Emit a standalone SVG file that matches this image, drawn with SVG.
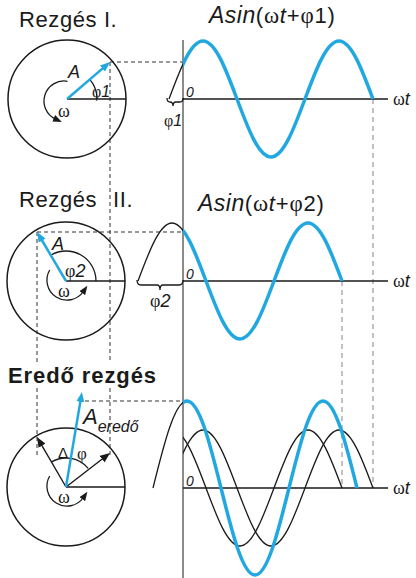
<svg xmlns="http://www.w3.org/2000/svg" width="416" height="578" viewBox="0 0 416 578">
<style>
 .sans{font-family:"Liberation Sans",Arial,sans-serif}
 .ser{font-family:"Liberation Serif","Times New Roman",serif}
 .it{font-style:italic}
 text{fill:#1a1a1a}
 .circ{fill:none;stroke:#1a1a1a;stroke-width:1.5}
 .ax{stroke:#1a1a1a;stroke-width:1.5;fill:none}
 .vax{stroke:#6e6e6e;stroke-width:1.6;fill:none}
 .dash{stroke:#333;stroke-width:1;stroke-dasharray:4 3;fill:none}
 .gdash{stroke:#9a9a9a;stroke-width:1.2;stroke-dasharray:5 4;fill:none}
 .blue{stroke:#22a8e0;stroke-width:3.5;fill:none}
 .bvec{stroke:#22a8e0;stroke-width:2.5;fill:none}
 .kvec{stroke:#1a1a1a;stroke-width:1.4;fill:none}
 .thin{stroke:#1a1a1a;stroke-width:1.3;fill:none}
 .title{font-size:22px;letter-spacing:0.8px}
</style>
<defs>
 <marker id="ab" markerUnits="userSpaceOnUse" markerWidth="11" markerHeight="8" refX="3" refY="4" orient="auto"><path d="M0,0 L10,4 L0,8 z" fill="#22a8e0"/></marker>
 <marker id="ak" markerUnits="userSpaceOnUse" markerWidth="11" markerHeight="8" refX="3" refY="4" orient="auto"><path d="M0,0 L10,4 L0,8 z" fill="#1a1a1a"/></marker>
 <marker id="ar" markerUnits="userSpaceOnUse" markerWidth="9" markerHeight="7" refX="2" refY="3.5" orient="auto"><path d="M0,0 L9,3.5 L0,7 z" fill="#1a1a1a"/></marker>
 <clipPath id="cr"><rect x="183" y="0" width="233" height="578"/></clipPath>
 <clipPath id="cl"><rect x="0" y="0" width="183" height="578"/></clipPath>
</defs>
<rect width="416" height="578" fill="#fff"/>

<g id="connectors">
 <path class="dash" d="M110,62 H183 M110,62 V362 M110,388 V457"/>
 <path class="dash" d="M37,232 H183 M37,232 V362 M37,388 V455"/>
 <path class="dash" d="M85,401 H183"/>
 <path class="gdash" d="M373,99 V488 M342,281 V488"/>
</g>

<line id="time-axis" class="vax" x1="183" y1="40" x2="183" y2="578"/>

<g id="vibration1">
 <text class="sans" x="19" y="27" font-size="22" letter-spacing="0.6">Rezgés I.</text>
 <circle class="circ" cx="67" cy="99" r="59"/>
 <line class="ax" x1="67" y1="99" x2="126" y2="99"/>
 <path class="thin" d="M97,99 A30,30 0 0 0 90,79.7"/>
 <path class="thin" marker-end="url(#ar)" d="M67.5,81.3 A20,20 0 0 0 55.5,119.1"/>
 <line class="bvec" marker-end="url(#ab)" x1="67" y1="99" x2="104.7" y2="66.6"/>
 <text class="sans it" x="68" y="78" font-size="18">A</text>
 <text x="92" y="97" font-size="16"><tspan class="ser">φ</tspan><tspan class="sans it">1</tspan></text>
 <text class="ser" x="58" y="117" font-size="18">ω</text>
 <line class="ax" x1="183" y1="99" x2="388" y2="99"/>
 <text x="393" y="105" font-size="18"><tspan class="ser">ω</tspan><tspan class="sans it">t</tspan></text>
 <text class="sans it" x="186" y="97" font-size="14">0</text>
 <text class="title" x="209" y="23"><tspan class="sans it" font-size="23" letter-spacing="0.5">Asin</tspan><tspan class="sans">(</tspan><tspan class="ser" font-size="23">ω</tspan><tspan class="sans it">t</tspan><tspan class="sans">+</tspan><tspan class="ser" font-size="23">φ</tspan><tspan class="sans">1)</tspan></text>
 <path class="blue" clip-path="url(#cr)" d="M169,99 C180.09,69.29 190.70,41 203,41 C215.30,41 225.91,69.29 237,99 C248.09,128.71 258.70,157 271,157 C283.30,157 293.91,128.71 305,99 C316.09,69.29 326.70,41 339,41 C351.30,41 361.91,69.29 373,99"/>
 <path class="thin" clip-path="url(#cl)" d="M169,99 C180.09,69.29 190.70,41 203,41"/>
 <path class="thin" d="M167,98 Q167,102 170,102 Q173,102 173,106 Q173,102 176,102 L180,102 Q183,102 183,98"/>
 <text x="164" y="126" font-size="16"><tspan class="ser">φ</tspan><tspan class="sans it">1</tspan></text>
</g>

<g id="vibration2">
 <text class="sans" x="19" y="207" font-size="22" letter-spacing="0.6">Rezgés <tspan x="113">II.</tspan></text>
 <circle class="circ" cx="66" cy="281" r="59"/>
 <line class="ax" x1="66" y1="281" x2="125" y2="281"/>
 <path class="thin" d="M96,281 A30,30 0 0 0 51,255"/>
 <path class="thin" marker-end="url(#ar)" d="M49.7,270 A20,20 0 0 0 83.4,291.5"/>
 <line class="bvec" marker-end="url(#ab)" x1="66" y1="281" x2="40.6" y2="238"/>
 <text class="sans it" x="52" y="250" font-size="18">A</text>
 <text x="65" y="277" font-size="18"><tspan class="ser">φ</tspan><tspan class="sans it">2</tspan></text>
 <text class="ser" x="58" y="297" font-size="18">ω</text>
 <line class="ax" x1="183" y1="281" x2="388" y2="281"/>
 <text x="393" y="287" font-size="18"><tspan class="ser">ω</tspan><tspan class="sans it">t</tspan></text>
 <text class="sans it" x="186" y="279" font-size="14">0</text>
 <text class="title" x="198" y="211"><tspan class="sans it" font-size="23" letter-spacing="0.5">Asin</tspan><tspan class="sans">(</tspan><tspan class="ser" font-size="23">ω</tspan><tspan class="sans it">t</tspan><tspan class="sans">+</tspan><tspan class="ser" font-size="23">φ</tspan><tspan class="sans">2)</tspan></text>
 <path class="blue" clip-path="url(#cr)" d="M138,281 C149.09,251.29 159.70,223 172,223 C184.30,223 194.91,251.29 206,281 C217.09,310.71 227.70,339 240,339 C252.30,339 262.91,310.71 274,281 C285.09,251.29 295.70,223 308,223 C320.30,223 330.91,251.29 342,281"/>
 <path class="thin" clip-path="url(#cl)" d="M138,281 C149.09,251.29 159.70,223 172,223 C184.30,223 194.91,251.29 206,281"/>
 <path class="thin" d="M137,280 Q137,285 141,285 L157,285 Q160,285 160,290 Q160,285 163,285 L179,285 Q183,285 183,280"/>
 <text x="150" y="307" font-size="18"><tspan class="ser">φ</tspan><tspan class="sans it">2</tspan></text>
</g>

<g id="resultant">
 <text class="sans" x="8" y="383" font-size="22" font-weight="bold" letter-spacing="0.9">Eredő rezgés</text>
 <circle class="circ" cx="66" cy="487" r="59"/>
 <line class="ax" x1="66" y1="487" x2="125" y2="487"/>
 <path class="thin" d="M88.2,468.4 A29,29 0 0 0 51.5,461.9"/>
 <path class="thin" marker-end="url(#ar)" d="M49.7,476 A20,20 0 0 0 83.4,497.5"/>
 <line class="kvec" marker-end="url(#ak)" x1="66" y1="487" x2="40.5" y2="443.1"/>
 <line class="kvec" marker-end="url(#ak)" x1="66" y1="487" x2="104.5" y2="457.3"/>
 <line class="bvec" marker-end="url(#ab)" x1="66" y1="487" x2="80.8" y2="398.9"/>
 <text class="sans it" x="83" y="424" font-size="22">A<tspan font-size="16" dy="8">eredő</tspan></text>
 <text class="sans" x="58" y="458" font-size="15">Δ</text>
 <text class="ser" x="77" y="459" font-size="17">φ</text>
 <text class="ser" x="58" y="503" font-size="18">ω</text>
 <line class="ax" x1="183" y1="488" x2="388" y2="488"/>
 <text x="393" y="494" font-size="18"><tspan class="ser">ω</tspan><tspan class="sans it">t</tspan></text>
 <text class="sans it" x="186" y="486" font-size="14">0</text>
 <path class="thin" clip-path="url(#cr)" d="M169,488 C180.09,458.29 190.70,430 203,430 C215.30,430 225.91,458.29 237,488 C248.09,517.71 258.70,546 271,546 C283.30,546 293.91,517.71 305,488 C316.09,458.29 326.70,430 339,430 C351.30,430 361.91,458.29 373,488"/>
 <path class="thin" clip-path="url(#cr)" d="M138,488 C149.09,458.29 159.70,430 172,430 C184.30,430 194.91,458.29 206,488 C217.09,517.71 227.70,546 240,546 C252.30,546 262.91,517.71 274,488 C285.09,458.29 295.70,430 308,430 C320.30,430 330.91,458.29 342,488"/>
 <path class="blue" clip-path="url(#cr)" d="M153,488 C164.09,443.43 174.70,401 187,401 C199.30,401 209.91,443.43 221,488 C232.09,532.57 242.70,575 255,575 C267.30,575 277.91,532.57 289,488 C300.09,443.43 310.70,401 323,401 C335.30,401 345.91,443.43 357,488"/>
 <path class="thin" clip-path="url(#cl)" d="M153,488 C164.09,443.43 174.70,401 187,401"/>
</g>
</svg>
